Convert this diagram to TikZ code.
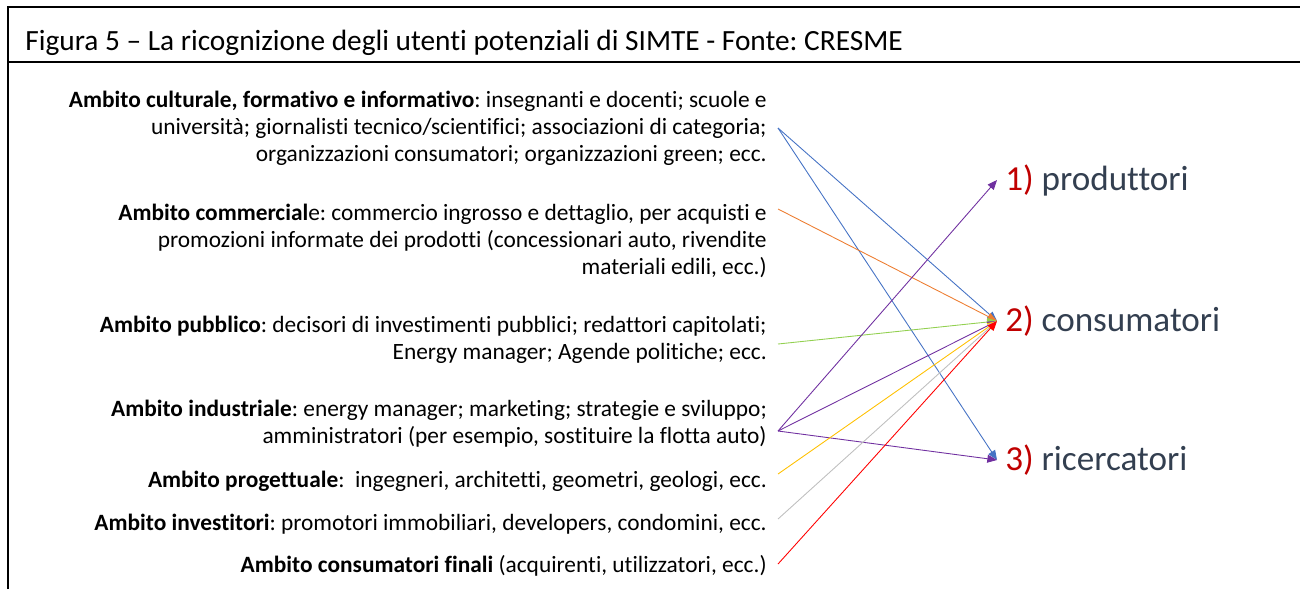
\documentclass[tikz,border=0pt]{standalone}
\usepackage{fontspec}
\setmainfont{Carlito}[Ligatures=NoCommon]
\usepackage{tikz}
\usetikzlibrary{arrows.meta}
\definecolor{lblue}{HTML}{4472C4}
\definecolor{lorange}{HTML}{ED7D31}
\definecolor{lgreen}{HTML}{92D050}
\definecolor{lpurple}{HTML}{7030A0}
\definecolor{lyellow}{HTML}{FFC000}
\definecolor{lgray}{HTML}{BFBFBF}
\definecolor{lred}{HTML}{FF0000}
\definecolor{numred}{HTML}{C00000}
\definecolor{slate}{HTML}{333F50}
\tikzset{
  ambito/.style={anchor=east, align=right, inner sep=0pt, font=\fontsize{13.3}{15.4}\selectfont},
  utente/.style={anchor=west, inner xsep=4.5pt, inner ysep=0pt, text=slate, font=\fontsize{20}{22}\selectfont},
  conn/.style={-{Triangle[length=5.5pt,width=4.5pt]}, line width=0.5pt}
}
\frenchspacing

\begin{document}
\begin{tikzpicture}[x=0.02cm,y=-0.02cm]
                \useasboundingbox (0,0) rectangle (1300,589);

                %frame and caption
                \draw[line width=1.2pt] (8,589) -- (8,7) -- (1300,7);
                \draw[line width=1.2pt] (8,62) -- (1300,62);
                \node (title) at (25,50) [anchor=base west, inner sep=0pt, font=\fontsize{16.7}{20}\selectfont]{Figura 5 -- La ricognizione degli utenti potenziali di SIMTE - Fonte: CRESME};

                %the ambiti on the left, right aligned
                \node (b1) at (767,128) [ambito]{\textbf{Ambito culturale, formativo e informativo}: insegnanti e docenti; scuole e\\ università; giornalisti tecnico/scientifici; associazioni di categoria;\\ organizzazioni consumatori; organizzazioni green; ecc.};
                \node (b2) at (767,241) [ambito]{\textbf{Ambito commercial}e: commercio ingrosso e dettaglio, per acquisti e\\ promozioni informate dei prodotti (concessionari auto, rivendite\\ materiali edili, ecc.)};
                \node (b3) at (767,340) [ambito]{\textbf{Ambito pubblico}: decisori di investimenti pubblici; redattori capitolati;\\ Energy manager; Agende politiche; ecc.};
                \node (b4) at (767,424) [ambito]{\textbf{Ambito industriale}: energy manager; marketing; strategie e sviluppo;\\ amministratori (per esempio, sostituire la flotta auto)};
                \node (b5) at (767,481) [ambito]{\textbf{Ambito progettuale}:~ ingegneri, architetti, geometri, geologi, ecc.};
                \node (b6) at (767,524) [ambito]{\textbf{Ambito investitori}: promotori immobiliari, developers, condomini, ecc.};
                \node (b7) at (767,566) [ambito]{\textbf{Ambito consumatori finali} (acquirenti, utilizzatori, ecc.)};

                %start points of the arrows
                \coordinate (s1) at (778,128);
                \coordinate (s2) at (778,209);
                \coordinate (s3) at (778,344);
                \coordinate (s4) at (778,431);
                \coordinate (s5) at (778,474);
                \coordinate (s6) at (778,519);
                \coordinate (s7) at (778,564);

                %the three kinds of users
                \node (u1) at (997,180) [utente]{{\color{numred}1)} produttori};
                \node (u2) at (997,321) [utente]{{\color{numred}2)} consumatori};
                \node (u3) at (997,460) [utente]{{\color{numred}3)} ricercatori};

                %arrows
                \draw[conn, lblue] (s1) -- (u2.west);
                \draw[conn, lblue] (s1) -- (u3.west);
                \draw[conn, lorange] (s2) -- (u2.west);
                \draw[conn, lgreen] (s3) -- (u2.west);
                \draw[conn, lpurple] (s4) -- (u1.west);
                \draw[conn, lpurple] (s4) -- (u2.west);
                \draw[conn, lpurple] (s4) -- (u3.west);
                \draw[conn, lyellow] (s5) -- (u2.west);
                \draw[conn, lgray] (s6) -- (u2.west);
                \draw[conn, lred] (s7) -- (u2.west);
            \end{tikzpicture}
\end{document}
